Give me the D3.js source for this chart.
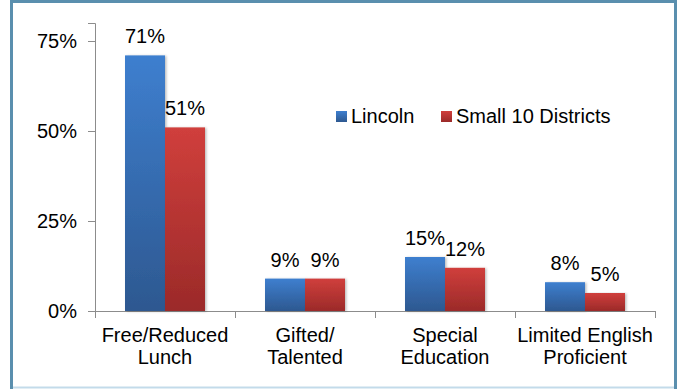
<!DOCTYPE html>
<html><head><meta charset="utf-8">
<script src="https://cdn.jsdelivr.net/npm/d3@7"></script>
<style>html,body{margin:0;padding:0;background:#fff;}svg{display:block;}text{font-family:"Liberation Sans",Arial,sans-serif;fill:#000;}</style>
</head><body>
<svg id="c" width="681" height="389"></svg>
<script>
const categories = [["Free/Reduced","Lunch"],["Gifted/","Talented"],["Special","Education"],["Limited English","Proficient"]];
const seriesNames = ["Lincoln","Small 10 Districts"];
const lincoln = [71, 9, 15, 8];
const small10 = [51, 9, 12, 5];
const yTicks = [0, 25, 50, 75];

(function(){
const svg = d3.select("#c");
const defs = svg.append("defs");
const grads = [["gBlue","#3e7fcf","#2d5890"],["gRed","#d03f3c","#9b2a29"]];
grads.forEach(([id,a,b])=>{
  const g = defs.append("linearGradient").attr("id",id).attr("x1",0).attr("y1",0).attr("x2",0).attr("y2",1);
  g.append("stop").attr("offset","0%").attr("stop-color",a);
  g.append("stop").attr("offset","100%").attr("stop-color",b);
});
const shadow = defs.append("filter").attr("id","sh").attr("x","-20%").attr("y","-5%").attr("width","140%").attr("height","110%");
shadow.append("feDropShadow").attr("dx",1.5).attr("dy",0.5).attr("stdDeviation",1).attr("flood-color","#000").attr("flood-opacity",0.25);

// frame
svg.append("rect").attr("x",11.5).attr("y",1.5).attr("width",664).attr("height",390).attr("fill","none").attr("stroke","#5a8fae").attr("stroke-width",3);
svg.append("line").attr("x1",13).attr("x2",674).attr("y1",387.5).attr("y2",387.5).attr("stroke","#c3dbea").attr("stroke-width",2);

const pL = 95, pR = 655, pT = 23, pB = 311;
const x0 = d3.scaleBand().domain(d3.range(categories.length)).range([pL,pR]).paddingInner(0).paddingOuter(0);
const x1 = d3.scaleBand().domain([0,1]).range([0,x0.bandwidth()]).paddingInner(0).paddingOuter(0.75);
const y = d3.scaleLinear().domain([0,80]).range([pB,pT]);

// y axis
const yAxis = d3.axisLeft(y).tickValues(yTicks).tickSize(7).tickPadding(11).tickFormat(d=>d+"%");
const ya = svg.append("g").attr("transform",`translate(${pL},0)`).call(yAxis);
ya.select(".domain").attr("stroke","#8c8c8c");
ya.selectAll(".tick line").attr("stroke","#8c8c8c");
ya.selectAll(".tick text").attr("font-size",20).attr("fill","#000").attr("font-family","Liberation Sans, Arial, sans-serif");

// x axis baseline with ticks at category boundaries
const xa = svg.append("g");
xa.append("line").attr("x1",pL).attr("x2",pR).attr("y1",pB+0.5).attr("y2",pB+0.5).attr("stroke","#8c8c8c");
d3.range(categories.length+1).forEach(i=>{
  const xx = pL + i*x0.bandwidth();
  xa.append("line").attr("x1",xx+0.5).attr("x2",xx+0.5).attr("y1",pB).attr("y2",pB+7).attr("stroke","#8c8c8c");
});

// bars
const data = [lincoln, small10];
const fills = ["url(#gBlue)","url(#gRed)"];
data.forEach((vals,s)=>{
  svg.append("g").selectAll("rect").data(vals).join("rect")
    .attr("x",(d,i)=>x0(i)+x1(s))
    .attr("y",d=>y(d))
    .attr("width",x1.bandwidth())
    .attr("height",d=>y(0)-y(d))
    .attr("fill",fills[s])
    .attr("filter","url(#sh)");
});
data.forEach((vals,s)=>{
  svg.append("g").selectAll("text").data(vals).join("text")
    .attr("x",(d,i)=>x0(i)+x1(s)+x1.bandwidth()/2)
    .attr("y",d=>y(d)-12)
    .attr("text-anchor","middle")
    .attr("font-size",20)
    .text(d=>d+"%");
});

// category labels
categories.forEach((lines,i)=>{
  const cx = x0(i)+x0.bandwidth()/2;
  const t = svg.append("text").attr("x",cx).attr("y",342).attr("text-anchor","middle").attr("font-size",20);
  lines.forEach((l,k)=>t.append("tspan").attr("x",cx).attr("dy",k===0?0:22).text(l));
});

// legend
const legendX = [336, 441];
seriesNames.forEach((n,s)=>{
  svg.append("rect").attr("x",legendX[s]).attr("y",111).attr("width",11).attr("height",11).attr("fill",fills[s]);
  svg.append("text").attr("x",legendX[s]+15).attr("y",123).attr("font-size",20).text(n);
});
})();
</script>
</body></html>
